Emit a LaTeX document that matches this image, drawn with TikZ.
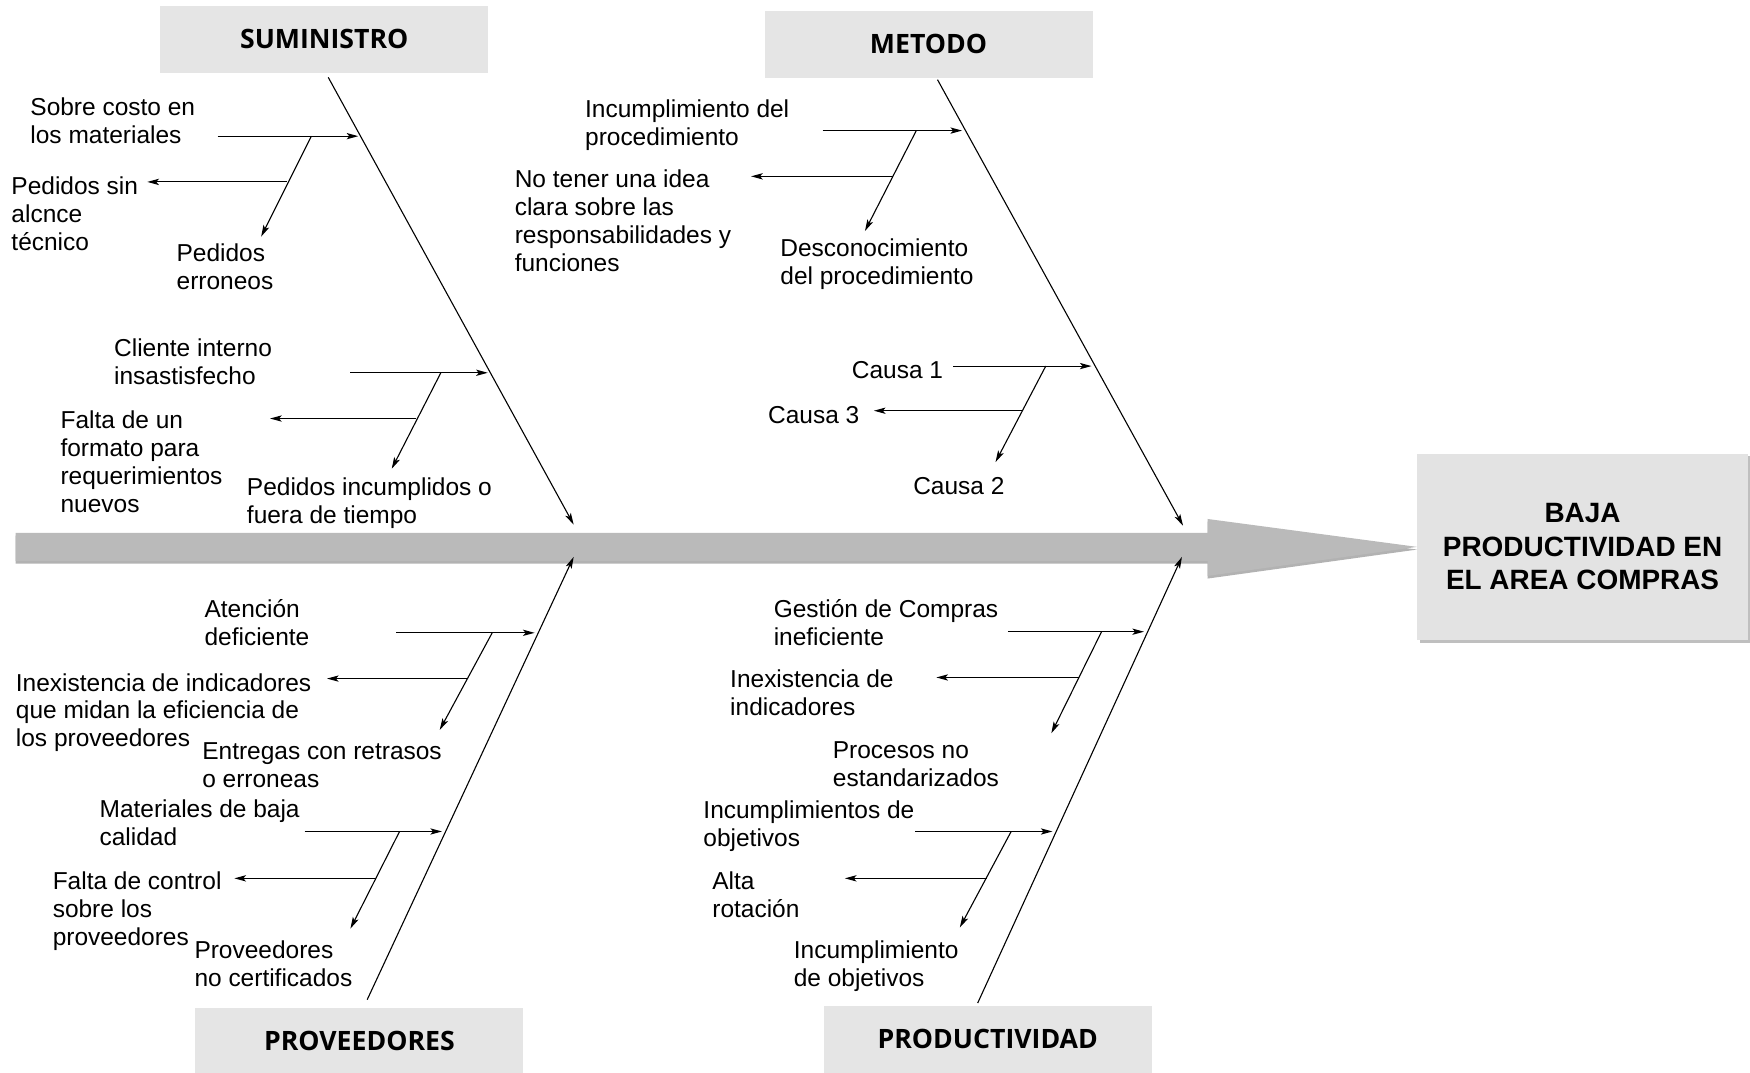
\documentclass[tikz,border=0pt]{standalone}
\usepackage{fontspec}
\setmainfont{Liberation Sans}
\newfontfamily\titlefont{Open Sans}
\usetikzlibrary{arrows.meta,shadows}
\tikzset{
	causa/.style     = {align=left, anchor=north west, inner sep=0pt,
		yshift=-0.75mm, font=\fontsize{15.6}{17.8}\selectfont,
		execute at begin node=\strut},
	categoria/.style = {fill=black!10, minimum width=73.5mm,
		minimum height=15mm, inner sep=0pt,
		font=\titlefont\fontsize{17}{20}\selectfont\bfseries},
	problema/.style  = {fill=black!11, minimum width=74mm,
		minimum height=41.75mm, align=center, inner sep=0pt,
		font=\fontsize{17.8}{21.3}\selectfont\bfseries,
		drop shadow={shadow xshift=0.5mm, shadow yshift=-0.6mm, fill=black!50}},
	espina/.style    = {fill=black!27,
		drop shadow={shadow xshift=0mm, shadow yshift=-0.6mm, fill=black!60}},
	hueso/.style     = {line width=0.7pt,
		-{Stealth[length=2.6mm, width=1.4mm, inset=0.6mm]}},
	flecha/.style    = {hueso}
}

\begin{document}
\begin{tikzpicture}[x=0.25mm, y=-0.25mm]
	\useasboundingbox (0,0) rectangle (1568,961);
	\node [categoria] at (290.5,35) (suministro) {SUMINISTRO};
	\node [categoria] at (832,39.5) (metodo) {METODO};
	\node [categoria] at (322,933) (proveedores) {PROVEEDORES};
	\node [categoria] at (885,931) (productividad) {PRODUCTIVIDAD};
	\node [problema] at (1418,490) (efecto) {BAJA\\PRODUCTIVIDAD EN\\EL AREA COMPRAS};

	\path [espina] (14,477.5) -- (1082,477.5) -- (1082,465) -- (efecto.west)
		-- (1082,516) -- (1082,502.5) -- (14,502.5) -- cycle;

	\coordinate (sumTip) at (514,470);
	\coordinate (metTip) at (1060,471);
	\coordinate (provTip) at (514,499);
	\coordinate (prodTip) at (1059,499);
	\draw [hueso] ([xshift=0.9mm, yshift=-1mm]suministro.south) -- (sumTip);
	\draw [hueso] ([xshift=2mm, yshift=-0.4mm]metodo.south) -- (metTip);
	\draw [hueso] ([xshift=1.75mm, yshift=1.75mm]proveedores.north) -- (provTip);
	\draw [hueso] ([xshift=-2.25mm, yshift=0.5mm]productividad.north) -- (prodTip);

	\node [causa] at (27,84) (sobre) {Sobre costo en\\los materiales};
	\node [causa] at (10,155) (alcance) {Pedidos sin\\alcnce\\técnico};
	\node [causa] at (158,215) (erroneos) {Pedidos\\erroneos};
	\node [causa] at (102,300) (cliente) {Cliente interno\\insastisfecho};
	\node [causa] at (54,365) (formato) {Falta de un\\formato para\\requerimientos\\nuevos};
	\node [causa] at (221,425) (incumplidos) {Pedidos incumplidos o\\fuera de tiempo};

	\node [causa] at (524,86) (incproc) {Incumplimiento del\\procedimiento};
	\node [causa] at (461,149) (idea) {No tener una idea\\clara sobre las\\responsabilidades y\\funciones};
	\node [causa] at (699,211) (desconoc) {Desconocimiento\\del procedimiento};
	\node [causa] at (763,318) (causaA) {Causa 1};
	\node [causa] at (688,359) (causaC) {Causa 3};
	\node [causa] at (818,422) (causaB) {Causa 2};

	\node [causa] at (183,534) (atencion) {Atención\\deficiente};
	\node [causa] at (14,600) (indicprov) {Inexistencia de indicadores\\que midan la eficiencia de\\los proveedores};
	\node [causa] at (181,662) (entregas) {Entregas con retrasos\\o erroneas};
	\node [causa] at (89,713) (calidad) {Materiales de baja\\calidad};
	\node [causa] at (47,778) (control) {Falta de control\\sobre los\\proveedores};
	\node [causa] at (174,840) (nocert) {Proveedores\\no certificados};

	\node [causa] at (693,534) (gestion) {Gestión de Compras\\ineficiente};
	\node [causa] at (654,597) (indicadores) {Inexistencia de\\indicadores};
	\node [causa] at (746,661) (procesos) {Procesos no\\estandarizados};
	\node [causa] at (630,714) (objetivos) {Incumplimientos de\\objetivos};
	\node [causa] at (638,778) (rotacion) {Alta\\rotación};
	\node [causa] at (711,840) (incobj) {Incumplimiento\\de objetivos};

	\coordinate (s1a) at (195,122); \coordinate (s1b) at (321,122);
	\coordinate (s1c) at (279,122); \coordinate (s1d) at (234,212);
	\coordinate (s1e) at (257,163); \coordinate (s1f) at (132,163);
	\coordinate (s2a) at (314,334); \coordinate (s2b) at (437,334);
	\coordinate (s2c) at (395,334); \coordinate (s2d) at (351,420);
	\coordinate (s2e) at (373,375); \coordinate (s2f) at (242,375);

	\coordinate (m1a) at (737,117); \coordinate (m1b) at (862,117);
	\coordinate (m1c) at (821,117); \coordinate (m1d) at (775,207);
	\coordinate (m1e) at (800,158); \coordinate (m1f) at (673,158);
	\coordinate (m2a) at (854,328); \coordinate (m2b) at (978,328);
	\coordinate (m2c) at (937,328); \coordinate (m2d) at (892,414);
	\coordinate (m2e) at (916,368); \coordinate (m2f) at (783,368);

	\coordinate (p1a) at (355,567); \coordinate (p1b) at (479,567);
	\coordinate (p1c) at (441,567); \coordinate (p1d) at (394,654);
	\coordinate (p1e) at (419,608); \coordinate (p1f) at (293,608);
	\coordinate (p2a) at (273,745); \coordinate (p2b) at (396,745);
	\coordinate (p2c) at (358,745); \coordinate (p2d) at (314,832);
	\coordinate (p2e) at (337,787); \coordinate (p2f) at (210,787);

	\coordinate (d1a) at (903,566); \coordinate (d1b) at (1025,566);
	\coordinate (d1c) at (987,566); \coordinate (d1d) at (942,657);
	\coordinate (d1e) at (967,607); \coordinate (d1f) at (839,607);
	\coordinate (d2a) at (820,745); \coordinate (d2b) at (943,745);
	\coordinate (d2c) at (906,745); \coordinate (d2d) at (860,831);
	\coordinate (d2e) at (884,787); \coordinate (d2f) at (757,787);

	\draw [flecha] (s1a) -- (s1b); \draw [flecha] (s1c) -- (s1d); \draw [flecha] (s1e) -- (s1f);
	\draw [flecha] (s2a) -- (s2b); \draw [flecha] (s2c) -- (s2d); \draw [flecha] (s2e) -- (s2f);
	\draw [flecha] (m1a) -- (m1b); \draw [flecha] (m1c) -- (m1d); \draw [flecha] (m1e) -- (m1f);
	\draw [flecha] (m2a) -- (m2b); \draw [flecha] (m2c) -- (m2d); \draw [flecha] (m2e) -- (m2f);
	\draw [flecha] (p1a) -- (p1b); \draw [flecha] (p1c) -- (p1d); \draw [flecha] (p1e) -- (p1f);
	\draw [flecha] (p2a) -- (p2b); \draw [flecha] (p2c) -- (p2d); \draw [flecha] (p2e) -- (p2f);
	\draw [flecha] (d1a) -- (d1b); \draw [flecha] (d1c) -- (d1d); \draw [flecha] (d1e) -- (d1f);
	\draw [flecha] (d2a) -- (d2b); \draw [flecha] (d2c) -- (d2d); \draw [flecha] (d2e) -- (d2f);
\end{tikzpicture}
\end{document}
